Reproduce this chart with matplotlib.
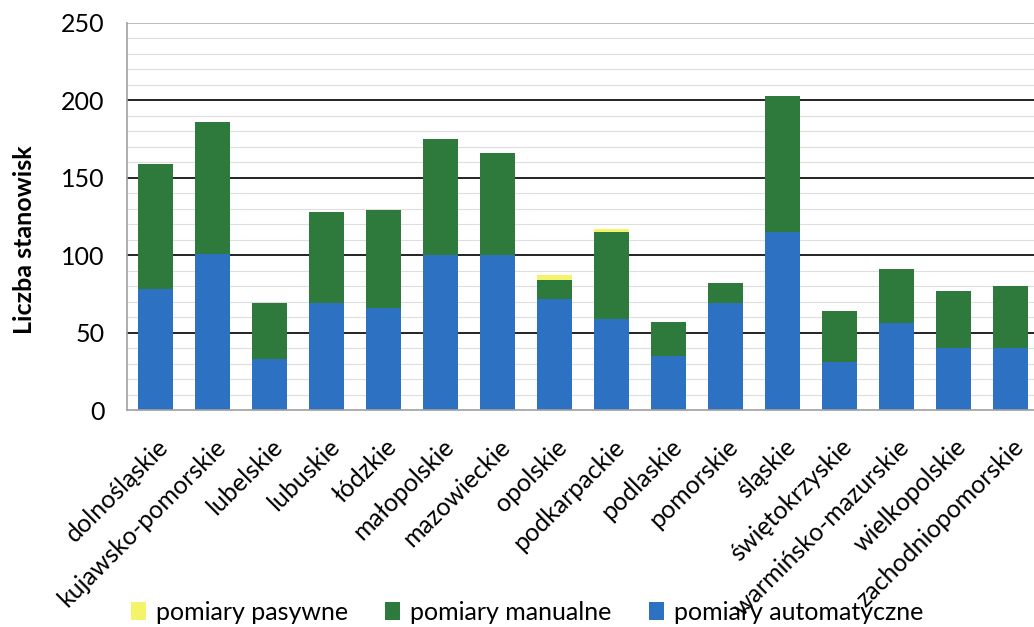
import matplotlib
matplotlib.use("Agg")
import matplotlib.pyplot as plt
import matplotlib.transforms as mtransforms
import numpy as np

plt.rcParams['font.family'] = ['Lato', 'DejaVu Sans']

regions = ["dolnośląskie", "kujawsko-pomorskie", "lubelskie", "lubuskie", "łódzkie",
           "małopolskie", "mazowieckie", "opolskie", "podkarpackie", "podlaskie",
           "pomorskie", "śląskie", "świętokrzyskie", "warmińsko-mazurskie",
           "wielkopolskie", "zachodniopomorskie"]
automatic = [78, 101, 33, 69, 66, 100, 100, 72, 59, 35, 69, 115, 31, 56, 40, 40]
manual = [81, 85, 36, 59, 63, 75, 66, 12, 56, 22, 13, 88, 33, 35, 37, 40]
passive = [0, 0, 0, 0, 0, 0, 0, 3, 2, 0, 0, 0, 0, 0, 0, 0]
y_ticks = [0, 50, 100, 150, 200, 250]

c_auto = "#2d72c2"
c_manual = "#2e7a3c"
c_passive = "#f4f46a"

fig = plt.figure(figsize=(10.34, 6.27), dpi=100)
ax = fig.add_axes([127 / 1034, 1 - 410 / 627, (1039 - 127) / 1034, (410 - 23) / 627])

x = np.arange(len(regions))
auto = np.array(automatic)
man = np.array(manual)
pas = np.array(passive)
w = 0.6

# faint minor grid every 10, darker major grid every 50
for v in range(10, 250, 10):
    if v % 50:
        ax.axhline(v, color="#dedede", lw=0.8, zorder=0)
for v in y_ticks[1:-1]:
    ax.axhline(v, color="#222222", lw=1.4, zorder=0)
ax.axhline(250, color="#b0b0b0", lw=1.2, zorder=0)

ax.bar(x, auto, w, color=c_auto, label="pomiary automatyczne", zorder=2)
ax.bar(x, man, w, bottom=auto, color=c_manual, label="pomiary manualne", zorder=2)
ax.bar(x, pas, w, bottom=auto + man, color=c_passive, label="pomiary pasywne", zorder=2)

ax.set_xlim(-0.5, len(regions) - 0.5)
ax.set_ylim(0, 250)
ax.set_yticks(y_ticks)
ax.tick_params(axis="y", length=0, labelsize=18, pad=16)
ax.tick_params(axis="x", length=0, labelsize=18, pad=18)
ax.set_xticks(x)
ax.set_xticklabels(regions, rotation=45, ha="right", rotation_mode="anchor")
shift = mtransforms.ScaledTranslation(1 / 100, 0, fig.dpi_scale_trans)
for lbl in ax.get_xticklabels():
    lbl.set_transform(lbl.get_transform() + shift)

for s in ["top", "right"]:
    ax.spines[s].set_visible(False)
ax.spines["left"].set_color("#a0a0a0")
ax.spines["bottom"].set_color("#a0a0a0")
ax.spines["left"].set_linewidth(1.2)
ax.spines["bottom"].set_linewidth(1.2)

ax.set_ylabel("Liczba stanowisk", fontsize=18, fontweight="bold")
ax.yaxis.set_label_coords((36 - 127) / 912, (410 - 240) / 387)

handles, labels = ax.get_legend_handles_labels()
order = [2, 1, 0]
fig.legend([handles[i] for i in order], [labels[i] for i in order],
           loc="center", bbox_to_anchor=(527 / 1034, 1 - 612 / 627), ncol=3,
           frameon=False, fontsize=18, handlelength=0.6, handleheight=0.7,
           handletextpad=0.4, columnspacing=1.5)

fig.savefig("out.png", dpi=100)
